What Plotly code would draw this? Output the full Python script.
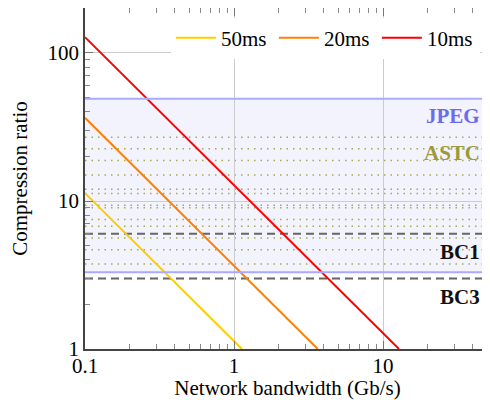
import math
import plotly.graph_objects as go

# ---- data ----
series_names = ["50ms", "20ms", "10ms"]
series_colors = ["#ffcc00", "#ff8000", "#ff0000"]
bandwidth_50 = [0.1, 1.13]
ratio_50 = [11.3, 1.0]
bandwidth_20 = [0.1, 3.65]
ratio_20 = [36.5, 1.0]
bandwidth_10 = [0.1, 12.8]
ratio_10 = [128.0, 1.0]

jpeg_range = [3.3, 49.0]
astc_ratios = [27, 22.5, 18.75, 15, 12, 11.25, 9.375, 9, 7.5, 6.74, 5.62, 4.69, 3.75, 3]
bc_names = ["BC1", "BC3"]
bc_ratios = [6.0, 3.0]

region_labels = ["JPEG", "ASTC", "BC1", "BC3"]
region_label_y = [37.5, 21.0, 4.5, 2.25]
region_label_colors = ["#6b6bef", "#9a9a3a", "#111111", "#111111"]

x_ticks = [0.1, 1, 10]
x_ticktext = ["0.1", "1", "10"]
y_ticks = [1, 10, 100]
y_ticktext = ["1", "10", "100"]
x_minor_ticks = [m * 10.0 ** e for e in (-1, 0, 1) for m in range(2, 10)]
y_minor_ticks = [m * 10.0 ** e for e in (0, 1, 2) for m in range(2, 10)]

FONT = "Liberation Serif"
FS = 21
X_RANGE = [-1, 1.718]
Y_RANGE = [0, 2.304]

fig = go.Figure()

xs = [bandwidth_50, bandwidth_20, bandwidth_10]
ys = [ratio_50, ratio_20, ratio_10]
for name, col, x, y in zip(series_names, series_colors, xs, ys):
    fig.add_trace(go.Scatter(x=x, y=y, mode="lines", name=name,
                             line=dict(color=col, width=2)))

# invisible trace carrying the minor-tick overlay axes
fig.add_trace(go.Scatter(x=[1], y=[1], xaxis="x2", yaxis="y2", mode="markers",
                         marker=dict(opacity=0), showlegend=False, hoverinfo="skip"))

shapes = []
shapes.append(dict(type="rect", xref="paper", yref="y", x0=0, x1=1,
                   y0=jpeg_range[0], y1=jpeg_range[1],
                   fillcolor="#f3f3fd", line=dict(width=0), layer="below"))
for v in astc_ratios:
    shapes.append(dict(type="line", xref="paper", yref="y", x0=0, x1=1, y0=v, y1=v,
                       line=dict(color="#a8a850", width=1.5, dash="1.5px,5px"), layer="below"))
for v in bc_ratios:
    shapes.append(dict(type="line", xref="paper", yref="y", x0=0, x1=1, y0=v, y1=v,
                       line=dict(color="#666666", width=2, dash="8px,5px"), layer="below"))
for v in jpeg_range:
    shapes.append(dict(type="line", xref="paper", yref="y", x0=0, x1=1, y0=v, y1=v,
                       line=dict(color="#aaaaff", width=2), layer="above"))
fig.update_layout(shapes=shapes)

for lab, yv, col in zip(region_labels, region_label_y, region_label_colors):
    fig.add_annotation(x=0.98, xref="paper", y=math.log10(yv), yref="y",
                       text="<b>%s</b>" % lab,
                       showarrow=False, xanchor="right", yanchor="middle",
                       font=dict(family=FONT, size=FS, color=col))

axis_common = dict(
    type="log", showline=True, linecolor="#444444", linewidth=1.5,
    mirror="allticks", ticks="inside", ticklen=8, tickcolor="#777777",
    showgrid=True, gridcolor="#cccccc", gridwidth=1, zeroline=False,
    tickfont=dict(family=FONT, size=FS, color="black"), automargin=False,
)

fig.update_xaxes(range=X_RANGE, tickvals=x_ticks, ticktext=x_ticktext,
                 title=dict(text="Network bandwidth (Gb/s)",
                            font=dict(family=FONT, size=FS, color="black"), standoff=8),
                 ticklabelstandoff=-3,
                 **axis_common)
fig.update_yaxes(range=Y_RANGE, tickvals=y_ticks, ticktext=y_ticktext,
                 title=dict(text="Compression ratio",
                            font=dict(family=FONT, size=FS, color="black"), standoff=18),
                 **axis_common)

minor_common = dict(type="log", showline=False, showgrid=False, zeroline=False,
                    showticklabels=False, ticks="inside", ticklen=5,
                    tickcolor="#888888", mirror="allticks", automargin=False)

fig.update_layout(
    xaxis2=dict(overlaying="x", anchor="y", side="bottom", range=X_RANGE,
                tickvals=x_minor_ticks, **minor_common),
    yaxis2=dict(overlaying="y", anchor="x", side="left", range=Y_RANGE,
                tickvals=y_minor_ticks, **minor_common),
)

fig.update_layout(
    width=482, height=392,
    margin=dict(l=77, r=0, t=0, b=51),
    plot_bgcolor="white", paper_bgcolor="white",
    font=dict(family=FONT, size=FS, color="black"),
    legend=dict(orientation="h", x=0.975, xanchor="right", y=0.912, yanchor="middle",
                bgcolor="white", borderwidth=0,
                font=dict(family=FONT, size=FS, color="black"),
                itemwidth=40, entrywidth=48, entrywidthmode="pixels"),
)

fig.write_html("out.html")
